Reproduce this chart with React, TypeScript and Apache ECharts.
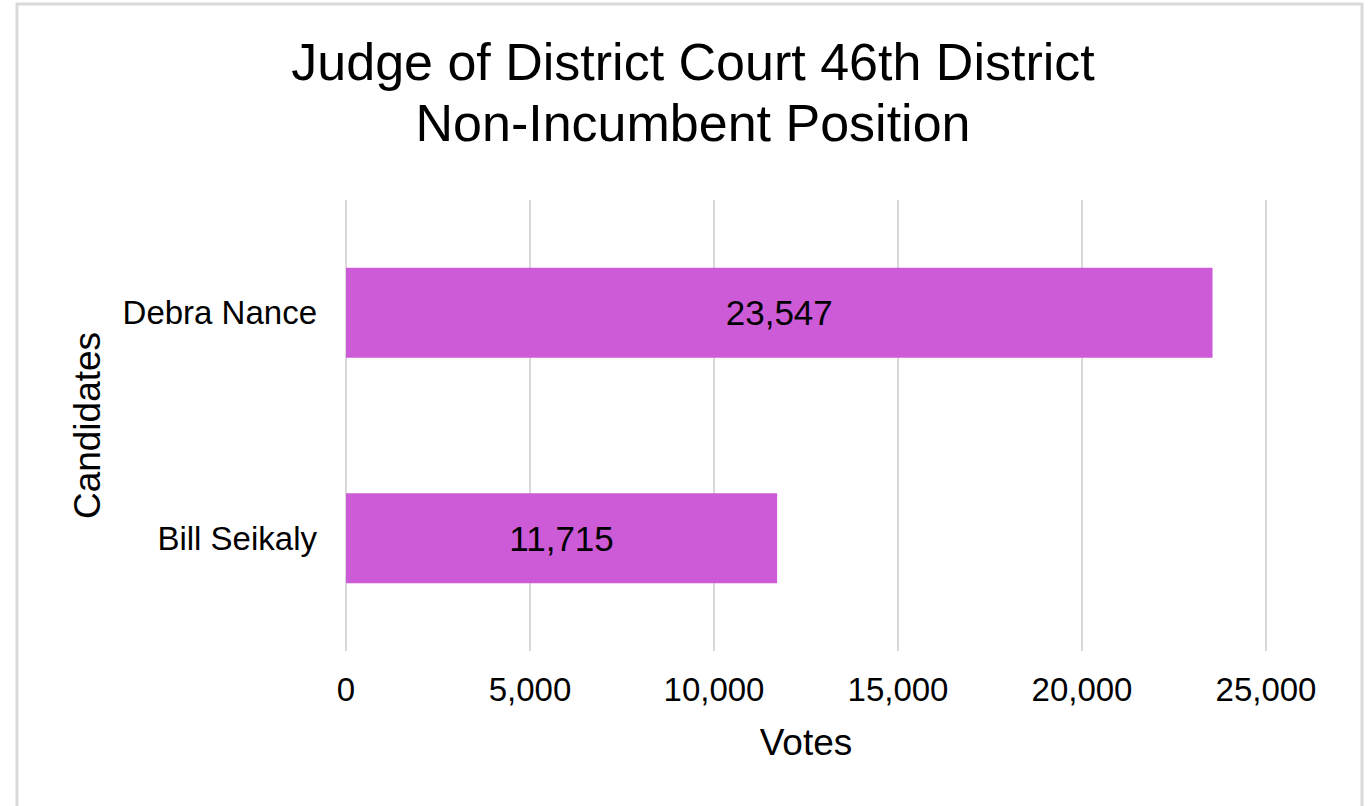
import React, { useEffect, useRef } from "react";
import * as echarts from "echarts";

const titleLines = ["Judge of District Court 46th District", "Non-Incumbent Position"];
const candidates = ["Debra Nance", "Bill Seikaly"];
const votes = [23547, 11715];
const xAxisName = "Votes";
const yAxisName = "Candidates";
const xMin = 0;
const xMax = 25000;
const xInterval = 5000;

const fmt = (v: number) => Number(v).toLocaleString("en-US");
const FONT = "'Liberation Sans', Arial, sans-serif";

export default function App() {
  const ref = useRef<HTMLDivElement>(null);
  useEffect(() => {
    if (!ref.current) return;
    const chart = echarts.init(ref.current, null, { renderer: "svg" });
    chart.setOption({
      animation: false,
      backgroundColor: "#ffffff",
      textStyle: { fontFamily: FONT },
      graphic: [
        {
          type: "rect",
          shape: { x: 17, y: 4, width: 1345, height: 830 },
          style: { fill: "none", stroke: "#d9d9d9", lineWidth: 3 },
          silent: true,
        },
        {
          type: "text",
          x: 693,
          y: 31,
          style: {
            text: titleLines.join("\n"),
            fontFamily: FONT,
            fontSize: 52,
            lineHeight: 61,
            fill: "#000000",
            textAlign: "center",
            textVerticalAlign: "top",
          },
        },
      ],
      grid: { left: 346, right: 105, top: 200, bottom: 155, containLabel: false },
      xAxis: {
        type: "value",
        min: xMin,
        max: xMax,
        interval: xInterval,
        name: xAxisName,
        nameLocation: "middle",
        nameGap: 73,
        nameTextStyle: { fontSize: 37, color: "#000", fontFamily: FONT },
        axisLine: { show: false },
        axisTick: { show: false },
        axisLabel: { fontSize: 33, color: "#000", margin: 22, formatter: (v: number) => fmt(v), fontFamily: FONT },
        splitLine: { show: true, lineStyle: { color: "#d9d9d9", width: 2 } },
      },
      yAxis: {
        type: "category",
        data: candidates,
        inverse: true,
        name: yAxisName,
        nameLocation: "middle",
        nameRotate: 90,
        nameGap: 240,
        nameTextStyle: { fontSize: 37, color: "#000", fontFamily: FONT },
        axisLine: { show: false },
        axisTick: { show: false },
        axisLabel: { fontSize: 33, color: "#000", margin: 29, fontFamily: FONT },
        splitLine: { show: false },
      },
      series: [
        {
          type: "bar",
          data: votes,
          barCategoryGap: "60%",
          itemStyle: { color: "#cd5ad7" },
          label: {
            show: true,
            position: "inside",
            fontSize: 35,
            color: "#000",
            fontFamily: FONT,
            formatter: (p: any) => fmt(p.value),
          },
        },
      ],
    });
    return () => chart.dispose();
  }, []);
  return (
    <div
      ref={ref}
      style={{ position: "absolute", left: 0, top: 0, width: 1371, height: 806 }}
    />
  );
}
